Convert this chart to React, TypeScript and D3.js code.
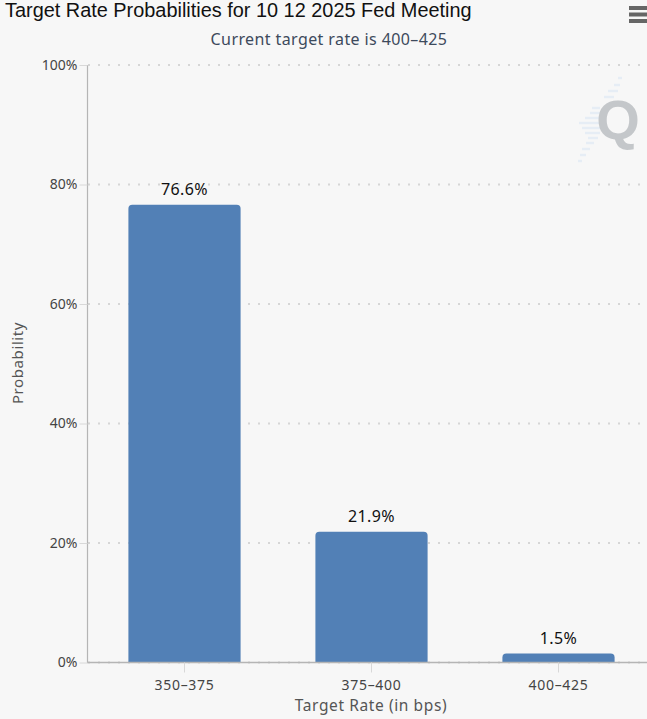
import React, { useEffect, useRef } from 'react';
import * as d3 from 'd3';

const categories = ['350-375', '375-400', '400-425'];
const probabilities = [76.6, 21.9, 1.5];
const yTicks = [0, 20, 40, 60, 80, 100];

const titleText = 'Target Rate Probabilities for 10 12 2025 Fed Meeting';
const subtitleText = 'Current target rate is 400\u2013425';

// faint streaks behind the Q watermark: [y, left, right]
const streaks = [
  [78, 618, 622], [85, 614, 620], [91, 608, 618], [97, 604, 614], [108, 592, 600],
  [113, 590, 600], [118, 585, 600], [123, 579, 600], [128, 582, 600], [133, 585, 600],
  [138, 588, 598], [143, 586, 594], [149, 582, 590], [155, 580, 586], [161, 578, 582],
];

const width = 647;
const height = 719;
const font = '"Noto Sans", "Open Sans", sans-serif';

export default function App() {
  const svgRef = useRef<SVGSVGElement>(null);

  useEffect(() => {
    if (!svgRef.current) return;
    d3.select(svgRef.current).selectAll('*').remove();

    const svg = d3.select(svgRef.current);

    const x = d3
      .scaleBand<string>()
      .domain(categories)
      .range([91, 652])
      .paddingInner(0.4)
      .paddingOuter(0.2);
    const y = d3.scaleLinear().domain([0, 100]).range([662.5, 65]);

    svg.append('rect').attr('width', width).attr('height', height).attr('fill', '#f7f7f7');

    // Title and subtitle
    svg
      .append('text')
      .attr('x', 5)
      .attr('y', 17)
      .attr('fill', '#111')
      .attr('font-family', '"Liberation Sans", Arial, sans-serif')
      .attr('font-size', '19.9px')
      .text(titleText);

    svg
      .append('text')
      .attr('x', 329)
      .attr('y', 45)
      .attr('text-anchor', 'middle')
      .attr('fill', '#3d4a5c')
      .attr('font-family', font)
      .attr('font-size', '16px')
      .attr('letter-spacing', '0.4px')
      .text(subtitleText);

    // Menu icon
    const menu = svg.append('g').attr('fill', '#666');
    [6, 12.5, 19].forEach(t => {
      menu.append('rect').attr('x', 629).attr('y', t).attr('width', 18).attr('height', 4);
    });

    // Watermark
    svg
      .append('g')
      .selectAll('line')
      .data(streaks)
      .enter()
      .append('line')
      .attr('x1', d => d[1])
      .attr('x2', d => d[2])
      .attr('y1', d => d[0])
      .attr('y2', d => d[0])
      .attr('stroke', '#e6edf5')
      .attr('stroke-width', 2.5);

    svg
      .append('text')
      .attr('x', 618)
      .attr('y', 139)
      .attr('text-anchor', 'middle')
      .attr('fill', '#c4c7ca')
      .attr('font-family', '"Liberation Sans", Arial, sans-serif')
      .attr('font-weight', '700')
      .attr('font-size', '56px')
      .text('Q');

    // Dotted grid
    svg
      .append('g')
      .selectAll('line')
      .data(yTicks)
      .enter()
      .append('line')
      .attr('x1', 88)
      .attr('x2', width)
      .attr('y1', d => y(d))
      .attr('y2', d => y(d))
      .attr('stroke', '#d6d6d6')
      .attr('stroke-width', 2)
      .attr('stroke-dasharray', '2,8');

    // Bars, rounded on the top corners
    const r = 4;
    svg
      .append('g')
      .selectAll('path')
      .data(probabilities)
      .enter()
      .append('path')
      .attr('fill', '#5280b6')
      .attr('d', (d, i) => {
        const left = x(categories[i])!;
        const right = left + x.bandwidth();
        const top = y(d);
        const base = y(0);
        return `M${left},${base}V${top + r}Q${left},${top} ${left + r},${top}H${right - r}Q${right},${top} ${right},${top + r}V${base}Z`;
      });

    // Value labels
    svg
      .append('g')
      .selectAll('text')
      .data(probabilities)
      .enter()
      .append('text')
      .attr('x', (d, i) => x(categories[i])! + x.bandwidth() / 2)
      .attr('y', d => y(d) - 10)
      .attr('text-anchor', 'middle')
      .attr('fill', '#111')
      .attr('font-family', font)
      .attr('font-size', '16px')
      .attr('letter-spacing', '0.4px')
      .text(d => `${d.toFixed(1)}%`);

    // X axis
    const xAxis = svg
      .append('g')
      .attr('transform', `translate(0, ${y(0)})`)
      .call(d3.axisBottom(x).tickSize(10).tickPadding(8).tickFormat(d => d.replace('-', '\u2013')));
    xAxis.select('.domain').attr('stroke', '#b5b5b5').attr('stroke-width', 1.5).attr('d', `M87,0H${width}`);
    xAxis.selectAll('.tick line').attr('stroke', '#d8d8d8');
    xAxis
      .selectAll('text')
      .attr('fill', '#444')
      .attr('font-family', font)
      .attr('font-size', '14px')
      .attr('letter-spacing', '0.7px');

    // Y axis
    const yAxis = svg
      .append('g')
      .attr('transform', 'translate(87.5, 0)')
      .call(d3.axisLeft(y).tickValues(yTicks).tickSize(10).tickPadding(0).tickFormat(d => `${d}%`));
    yAxis.select('.domain').attr('stroke', '#b5b5b5').attr('stroke-width', 1.2).attr('d', `M0,${y(100)}V${y(0)}`);
    yAxis.selectAll('.tick line').attr('x1', 0).attr('x2', -8).attr('stroke', '#d8d8d8');
    yAxis
      .selectAll('text')
      .attr('x', -10)
      .attr('fill', '#444')
      .attr('font-family', font)
      .attr('font-size', '14px');

    // Axis titles
    svg
      .append('text')
      .attr('x', 371)
      .attr('y', 711)
      .attr('text-anchor', 'middle')
      .attr('fill', '#555')
      .attr('font-family', font)
      .attr('font-size', '15.5px')
      .attr('letter-spacing', '0.6px')
      .text('Target Rate (in bps)');

    svg
      .append('text')
      .attr('transform', 'rotate(-90)')
      .attr('x', -363)
      .attr('y', 23)
      .attr('text-anchor', 'middle')
      .attr('fill', '#555')
      .attr('font-family', font)
      .attr('font-size', '15px')
      .attr('letter-spacing', '0.6px')
      .text('Probability');
  }, []);

  return (
    <svg
      ref={svgRef}
      width={width}
      height={height}
      style={{ position: 'absolute', left: 0, top: 0, display: 'block' }}
    />
  );
}
